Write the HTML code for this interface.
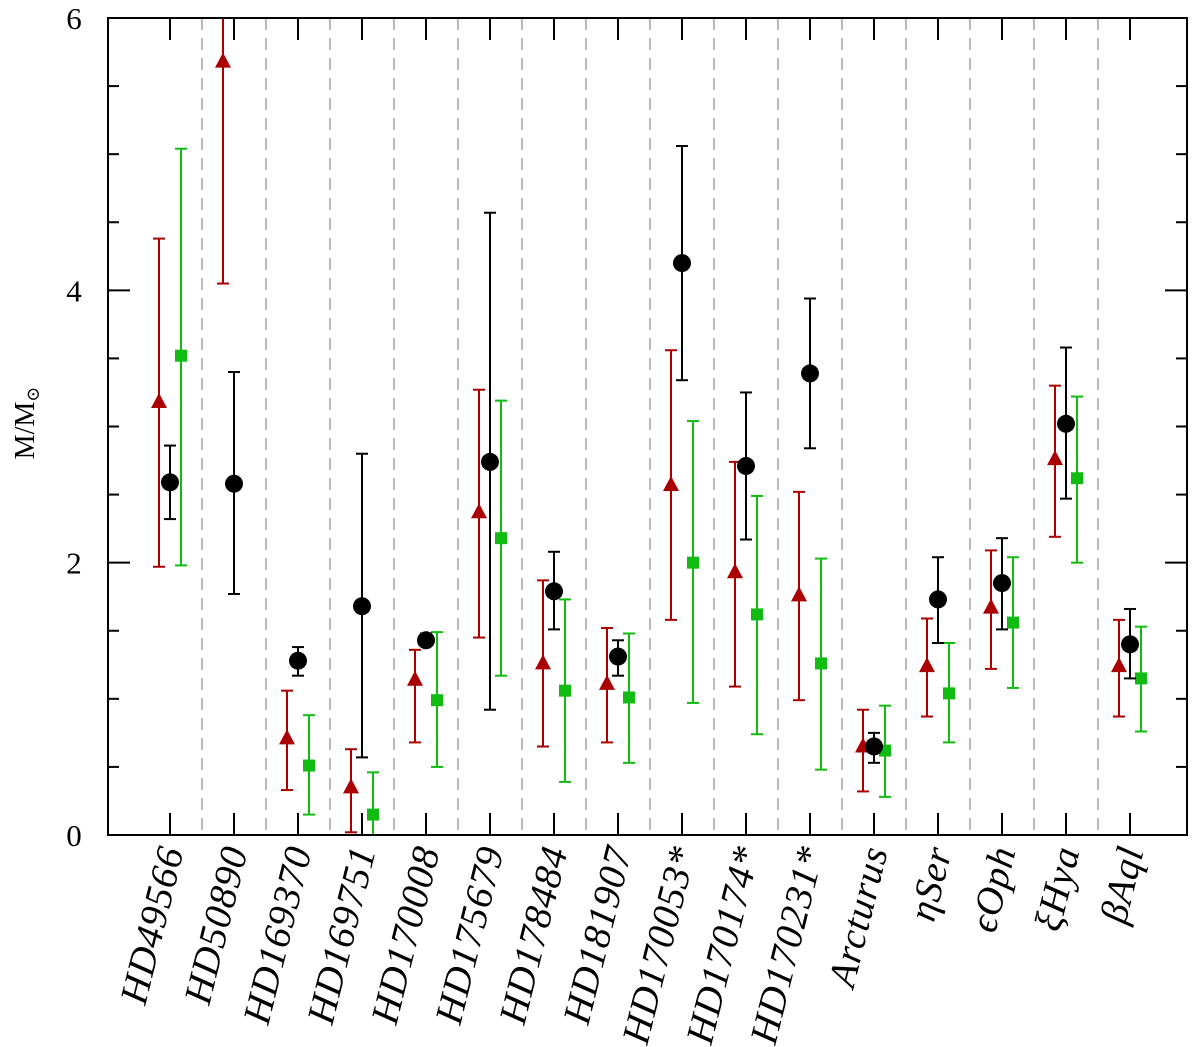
<!DOCTYPE html>
<html><head><meta charset="utf-8"><style>
html,body{margin:0;padding:0;background:#fff;}
svg{display:block;font-family:"Liberation Serif","DejaVu Serif",serif;}
</style></head><body>
<svg id="chart" width="1200" height="1047" viewBox="0 0 1200 1047" xmlns="http://www.w3.org/2000/svg"></svg>
<script>
const categories=["HD49566","HD50890","HD169370","HD169751","HD170008","HD175679","HD178484","HD181907","HD170053*","HD170174*","HD170231*","Arcturus","ηSer","ϵOph","ξHya","βAql"];
const redVal=[3.18,5.68,0.71,0.35,1.14,2.37,1.26,1.11,2.57,1.93,1.76,0.65,1.24,1.67,2.76,1.24];
const redLo=[1.97,4.05,0.33,0.02,0.68,1.45,0.65,0.68,1.58,1.09,0.99,0.32,0.87,1.22,2.19,0.87];
const redHi=[4.38,6.3,1.06,0.63,1.36,3.27,1.87,1.52,3.56,2.74,2.52,0.92,1.59,2.09,3.30,1.58];
const blackVal=[2.59,2.58,1.28,1.68,1.43,2.74,1.79,1.31,4.20,2.71,3.39,0.65,1.73,1.85,3.02,1.40];
const blackLo=[2.32,1.77,1.17,0.57,1.39,0.92,1.51,1.17,3.34,2.17,2.84,0.53,1.41,1.51,2.47,1.15];
const blackHi=[2.86,3.40,1.38,2.80,1.48,4.57,2.08,1.43,5.06,3.25,3.94,0.75,2.04,2.18,3.58,1.66];
const greenVal=[3.52,null,0.51,0.15,0.99,2.18,1.06,1.01,2.00,1.62,1.26,0.62,1.04,1.56,2.62,1.15];
const greenLo=[1.98,null,0.15,-0.1,0.50,1.17,0.39,0.53,0.97,0.74,0.48,0.28,0.68,1.08,2.00,0.76];
const greenHi=[5.04,null,0.88,0.46,1.49,3.19,1.73,1.48,3.04,2.49,2.03,0.95,1.41,2.04,3.22,1.53];
const yTicks=[0,2,4,6];

const NS="http://www.w3.org/2000/svg";
const svg=document.getElementById('chart');
const L=108,R=1187,T=18,B=835,ymin=0,ymax=6;
const y=v=>B-(v-ymin)/(ymax-ymin)*(B-T);
const xc=i=>170+64*i;
function el(tag,attrs,parent){const e=document.createElementNS(NS,tag);for(const k in attrs)e.setAttribute(k,attrs[k]);(parent||svg).appendChild(e);return e;}
const defs=el('defs',{});
const cp=el('clipPath',{id:'clip'},defs);el('rect',{x:L,y:T,width:R-L,height:B-T},cp);

for(let i=0;i<categories.length-1;i++){
  const d=el('line',{x1:xc(i)+32,x2:xc(i)+32,y1:T,y2:B,stroke:'#bbb','stroke-width':2,'stroke-dasharray':'12,8'});
  
  
}
const plot=el('g',{'clip-path':'url(#clip)'});


function errbar(x,lo,hi,col){
  el('line',{x1:x,x2:x,y1:y(lo),y2:y(hi),stroke:col,'stroke-width':2},plot);
  el('line',{x1:x-6,x2:x+6,y1:y(lo),y2:y(lo),stroke:col,'stroke-width':2},plot);
  el('line',{x1:x-6,x2:x+6,y1:y(hi),y2:y(hi),stroke:col,'stroke-width':2},plot);
}
for(let i=0;i<categories.length;i++){
  const xr=xc(i)-11,xb=xc(i),xg=xc(i)+11;
  if(redVal[i]!=null){errbar(xr,redLo[i],redHi[i],'#aa0000');
    const t=el('polygon',{points:`${xr},${y(redVal[i])-9} ${xr-8},${y(redVal[i])+6} ${xr+8},${y(redVal[i])+6}`,fill:'#aa0000'},plot);
    
    }
  if(greenVal[i]!=null){errbar(xg,greenLo[i],greenHi[i],'#11bb11');
    const s=el('rect',{x:xg-6,y:y(greenVal[i])-6,width:12,height:12,fill:'#11bb11'},plot);
    
    }
  if(blackVal[i]!=null){errbar(xb,blackLo[i],blackHi[i],'#000');
    const c=el('circle',{cx:xb,cy:y(blackVal[i]),r:9,fill:'#000'},plot);
    
    }
}
const fr=el('rect',{x:L,y:T,width:R-L,height:B-T,fill:'none',stroke:'#000','stroke-width':2});


for(let v=0;v<=6.001;v+=0.5){
  const major=Math.abs(v-Math.round(v/2)*2)<1e-6;
  const len=major?22:11;
  el('line',{x1:L,x2:L+len,y1:y(v),y2:y(v),stroke:'#000','stroke-width':2});
  el('line',{x1:R,x2:R-len,y1:y(v),y2:y(v),stroke:'#000','stroke-width':2});
}
yTicks.forEach(v=>{
  const t=el('text',{x:74,y:y(v)+11,'font-size':31,'text-anchor':'middle'});
  t.textContent=v;
  
  
});
for(let i=0;i<categories.length;i++){
  el('line',{x1:xc(i),x2:xc(i),y1:B,y2:B-22,stroke:'#000','stroke-width':2});
  el('line',{x1:xc(i),x2:xc(i),y1:T,y2:T+22,stroke:'#000','stroke-width':2});
  const t=el('text',{x:0,y:0,'font-size':39,'font-style':'italic','letter-spacing':1,'text-anchor':'end',transform:`translate(${xc(i)+14},${850}) rotate(-76)`});
  t.textContent=categories[i];
  
  
}
const yt=el('text',{x:0,y:0,'font-size':28,'text-anchor':'middle',transform:'translate(34,423) rotate(-90)'});
yt.innerHTML='M/M<tspan font-size="18" dy="5">⊙</tspan>';


</script>
</body></html>
